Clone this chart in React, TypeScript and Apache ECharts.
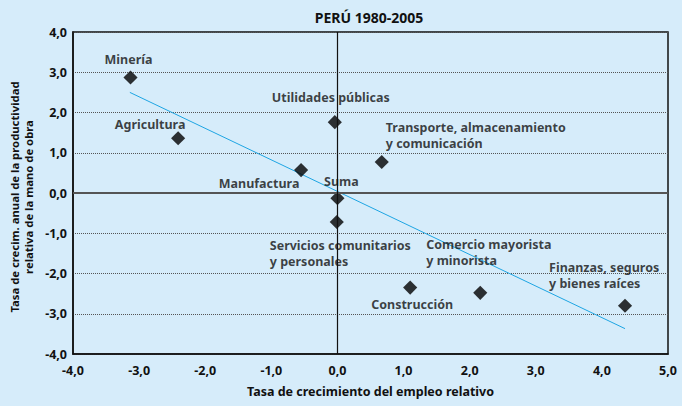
import React, { useEffect, useRef } from "react";
import * as echarts from "echarts";

const sectors = [
  "Minería",
  "Agricultura",
  "Utilidades públicas",
  "Transporte, almacenamiento\ny comunicación",
  "Manufactura",
  "Suma",
  "Servicios comunitarios\ny personales",
  "Comercio mayorista\ny minorista",
  "Finanzas, seguros\ny bienes raíces",
  "Construcción",
];
const employmentGrowth = [-3.13, -2.41, -0.04, 0.67, -0.55, 0.0, -0.01, 2.16, 4.35, 1.1];
const productivityGrowth = [2.87, 1.36, 1.76, 0.77, 0.57, -0.13, -0.72, -2.48, -2.8, -2.35];
const trendX = [-3.14, 4.35];
const trendY = [2.5, -3.37];
const yAxisTitle = "Tasa de crecim. anual de la productividad\nrelativa de la mano de obra";

// label placement relative to each marker
const labelOffsets: [number, number][] = [
  [-2, -18], [-28, -14], [-4, -25], [4, -27], [-42, 13],
  [4, -17], [-67, 32], [-54, -40], [-76, -30], [2, 17],
];
const labelAlign = ["center", "center", "center", "left", "center", "center", "left", "left", "left", "center"];

const FONT = "'Noto Sans', 'Open Sans', sans-serif";
const INK = "#111";
const fmt = (v: number) => v.toFixed(1).replace(".", ",");

export default function App() {
  const ref = useRef<HTMLDivElement>(null);
  useEffect(() => {
    const chart = echarts.init(ref.current!, undefined, { renderer: "svg" });
    chart.setOption({
      animation: false,
      backgroundColor: "#d6ecfa",
      textStyle: { fontFamily: FONT },
      title: {
        text: "PERÚ 1980-2005",
        left: 364,
        top: 5,
        textAlign: "center",
        textStyle: { fontSize: 14, fontWeight: "bold", color: INK, fontFamily: FONT },
      },
      graphic: [
        {
          type: "text",
          x: 21,
          y: 197,
          rotation: Math.PI / 2,
          style: {
            text: yAxisTitle,
            align: "center",
            verticalAlign: "middle",
            fontSize: 11.3,
            fontWeight: "bold",
            fill: INK,
            lineHeight: 14,
            fontFamily: FONT,
          },
        },
      ],
      grid: {
        left: 73,
        right: 14,
        top: 32,
        bottom: 52,
        show: true,
        borderColor: INK,
        borderWidth: 1.5,
        backgroundColor: "transparent",
      },
      xAxis: {
        type: "value",
        min: -4,
        max: 5,
        interval: 1,
        name: "Tasa de crecimiento del empleo relativo",
        nameLocation: "middle",
        nameGap: 31,
        nameTextStyle: { fontSize: 12.5, fontWeight: "bold", color: INK, fontFamily: FONT },
        axisLine: { onZero: false, lineStyle: { color: INK, width: 1.5 } },
        axisTick: { show: false },
        splitLine: { show: false },
        axisLabel: { formatter: fmt, fontSize: 12.5, fontWeight: "bold", color: INK, margin: 10, fontFamily: FONT },
      },
      yAxis: {
        type: "value",
        min: -4,
        max: 4,
        interval: 1,
        axisLine: { onZero: false, lineStyle: { color: INK, width: 1.5 } },
        axisTick: { show: false },
        splitLine: { show: true, lineStyle: { color: "#555", type: [1, 1], width: 1 } },
        axisLabel: { formatter: fmt, fontSize: 12.5, fontWeight: "bold", color: INK, margin: 6, fontFamily: FONT },
      },
      series: [
        {
          type: "line",
          data: trendX.map((x, i) => [x, trendY[i]]),
          symbol: "none",
          lineStyle: { color: "#1ea5e3", width: 1 },
          z: 3,
          markLine: {
            silent: true,
            symbol: "none",
            label: { show: false },
            data: [
              { yAxis: 0, lineStyle: { color: "#555", width: 2, type: "solid" } },
              { xAxis: 0, lineStyle: { color: INK, width: 1.2, type: "solid" } },
            ],
          },
        },
        {
          type: "scatter",
          symbol: "rect",
          symbolSize: 10,
          symbolRotate: 45,
          itemStyle: { color: "#000" },
          z: 4,
          data: sectors.map((name, i) => ({
            name,
            value: [employmentGrowth[i], productivityGrowth[i]],
            label: {
              show: true,
              position: "inside",
              formatter: name,
              align: labelAlign[i],
              verticalAlign: "middle",
              offset: labelOffsets[i],
              fontSize: 12.5,
              fontWeight: "bold",
              color: INK,
              lineHeight: 16,
              fontFamily: FONT,
            },
          })),
        },
      ],
    });
    return () => chart.dispose();
  }, []);
  return <div ref={ref} style={{ position: "fixed", left: 0, top: 0, width: 682, height: 406 }} />;
}
